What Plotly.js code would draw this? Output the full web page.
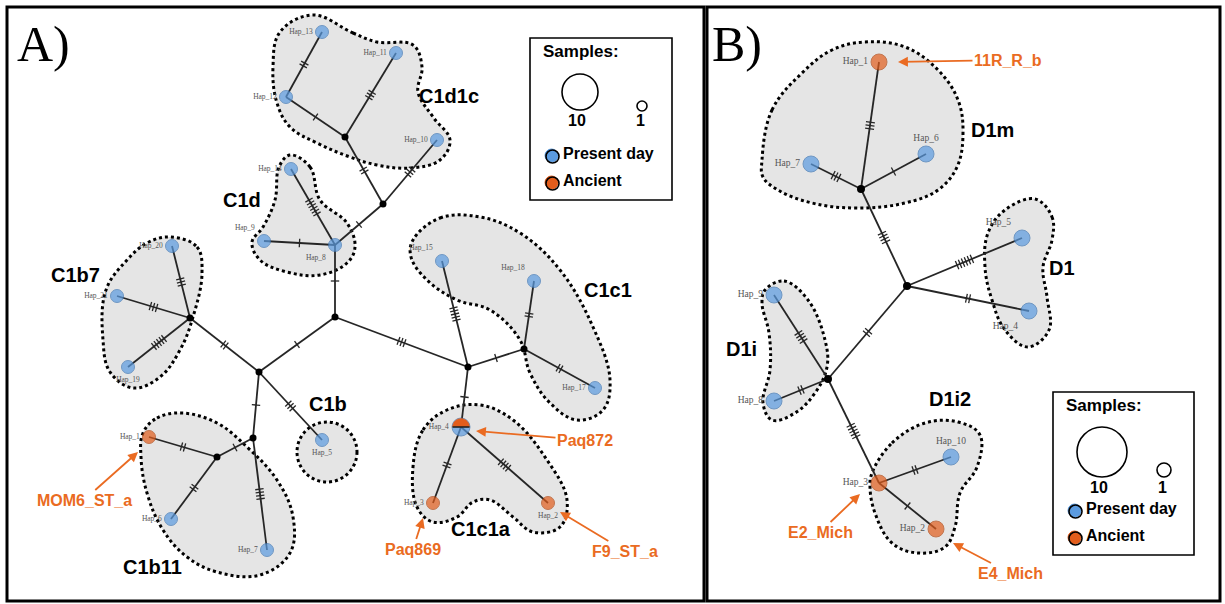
<!DOCTYPE html>
<html>
<head>
<meta charset="utf-8">
<script src="https://cdn.plot.ly/plotly-3.0.1.min.js"></script>
<style>body{margin:0;background:#fff}#net{width:1225px;height:604px}</style>
</head>
<body>
<div id="net"></div>
<script>
// ---------- panel A: haplogroup C network (layout) ----------
var hapA  = ['Hap_1','Hap_2','Hap_3','Hap_4','Hap_5','Hap_6','Hap_7','Hap_8','Hap_9','Hap_10',
             'Hap_11','Hap_12','Hap_13','Hap_14','Hap_15','Hap_17','Hap_18','Hap_19','Hap_20','Hap_21'];
var hapAx = [149,548,433,461,322,171,267,335,264,437,396,286,322,291,442,595,534,128,172,117];
var hapAy = [437,503,503,427,440,519,550,245,241,140, 53, 97, 32,169,261,388,281,367,246,296];
var hapAkind = ['anc','anc','anc','mix','pres','pres','pres','pres','pres','pres',
                'pres','pres','pres','pres','pres','pres','pres','pres','pres','pres'];
var medA  = ['a1','a2','a3','a4','a5','a6','a7','a8','a9'];
var medAx = [345,383,190,259,335,468,253,217,524];
var medAy = [137,204,318,372,317,367,438,457,349];
// [from, to, number of mutations]
var edgesA = [
  ['Hap_13','Hap_12',2],['Hap_12','a1',1],['Hap_11','a1',3],['a1','a2',2],['Hap_10','a2',3],
  ['a2','Hap_8',1],['Hap_14','Hap_8',6],['Hap_9','Hap_8',1],['Hap_8','a5',1],['a5','a4',1],
  ['a5','a6',3],['Hap_15','a6',5],['a6','a9',1],['a9','Hap_18',2],['a9','Hap_17',2],
  ['a6','Hap_4',1],['Hap_4','Hap_3',2],['Hap_4','Hap_2',4],['a4','a3',2],['a3','Hap_20',3],
  ['a3','Hap_21',3],['a3','Hap_19',5],['a4','a7',1],['a4','Hap_5',3],['a7','a8',1],
  ['a8','Hap_1',2],['a8','Hap_6',2],['a7','Hap_7',4]
];
var groupsA = ['C1d1c','C1d','C1b7','C1b','C1b11','C1c1','C1c1a'];
var ancientA = ['MOM6_ST_a','Paq869','Paq872','F9_ST_a'];

// ---------- panel B: haplogroup D network ----------
var hapB  = ['Hap_1','Hap_2','Hap_3','Hap_4','Hap_5','Hap_6','Hap_7','Hap_8','Hap_9','Hap_10'];
var hapBx = [879,936,879,1029,1022,926,811,774,774,951];
var hapBy = [ 62,529,483, 311, 238,154,164,401,295,457];
var hapBkind = ['anc','anc','anc','pres','pres','pres','pres','pres','pres','pres'];
var medB  = ['b1','b2','b3'];
var medBx = [861,907,828];
var medBy = [189,286,379];
var edgesB = [
  ['Hap_1','b1',3],['Hap_7','b1',3],['Hap_6','b1',1],['b1','b2',4],['b2','Hap_5',6],
  ['b2','Hap_4',2],['b2','b3',2],['b3','Hap_9',4],['b3','Hap_8',2],['b3','Hap_3',5],
  ['Hap_3','Hap_10',2],['Hap_3','Hap_2',1]
];
var groupsB = ['D1m','D1','D1i','D1i2'];
var ancientB = ['11R_R_b','E2_Mich','E4_Mich'];

var legendText = ['Samples:','10','1','Present day','Ancient'];

// ---------- styling / placement ----------
var BLUE = '#5b9be0', BLUE_LN = '#3f77b5', ORANGE = '#e25d1c', ORANGE_LN = '#b34812';
var TXT_OR = '#ea6b22', EDGE = '#262626';

var sideA = {Hap_1:'middle left',Hap_2:'bottom center',Hap_3:'middle left',Hap_4:'middle left',
  Hap_5:'bottom center',Hap_6:'middle left',Hap_7:'middle left',Hap_8:'bottom left',Hap_9:'top left',
  Hap_10:'middle left',Hap_11:'middle left',Hap_12:'middle left',Hap_13:'middle left',Hap_14:'middle left',
  Hap_15:'top left',Hap_17:'middle left',Hap_18:'top left',Hap_19:'bottom center',Hap_20:'middle left',
  Hap_21:'middle left'};
var sideB = {Hap_1:'middle left',Hap_2:'middle left',Hap_3:'middle left',Hap_4:'bottom left',
  Hap_5:'top left',Hap_6:'top center',Hap_7:'middle left',Hap_8:'middle left',Hap_9:'middle left',
  Hap_10:'top center'};

// cluster outlines (hand traced, smoothed by spline)
var hullA = {
  C1d1c: [[313,15],[353,33],[377,42],[413,45],[422,67],[418,92],[433,117],[450,140],[440,160],[410,168],
          [377,165],[350,157],[317,143],[290,127],[277,103],[273,67],[280,32]],
  C1d:   [[290,155],[310,167],[320,200],[347,223],[355,247],[347,263],[320,275],[287,272],[260,260],
          [252,242],[263,227],[275,200],[279,167]],
  C1b7:  [[170,237],[197,247],[202,273],[193,317],[180,350],[160,377],[133,388],[110,372],[103,340],
          [106,290],[127,260],[147,243]],
  C1b11: [[143,433],[157,418],[182,413],[217,423],[247,447],[277,480],[293,517],[290,553],[260,575],
          [217,572],[187,557],[163,530],[147,493],[141,457]],
  C1c1:  [[413,240],[440,218],[480,217],[520,233],[560,270],[593,327],[610,380],[603,410],[577,420],
          [550,403],[530,373],[520,340],[490,310],[457,300],[427,280],[411,257]],
  C1c1a: [[413,467],[423,430],[447,410],[480,405],[513,420],[547,460],[567,500],[560,527],[533,532],
          [513,517],[490,500],[473,502],[457,517],[433,522],[417,507]]
};
var hullB = {
  D1m:  [[762,160],[772,110],[802,73],[832,50],[865,42],[905,47],[938,70],[958,100],[963,133],[957,167],
         [938,190],[905,203],[855,208],[812,203],[778,190],[763,177]],
  D1:   [[1035,199],[1052,217],[1052,240],[1043,267],[1047,297],[1049,330],[1028,347],[1005,330],
         [992,300],[985,267],[988,233],[1005,210]],
  D1i:  [[765,290],[784,281],[808,300],[825,340],[827,367],[815,393],[795,413],[772,420],[763,403],
         [770,370],[769,333],[762,303]],
  D1i2: [[872,473],[892,443],[925,423],[958,422],[980,435],[977,467],[960,493],[955,527],[945,547],
         [918,553],[892,543],[875,513],[870,487]]
};
var groupPos = {C1d1c:[449,96],C1d:[242,200],C1b7:[75,275],C1b:[328,404],C1b11:[152,567],C1c1:[608,290],
  C1c1a:[481,529],D1m:[992,130],D1:[1062,268],D1i:[741,349],D1i2:[950,399]};
// ancient sample callouts: [text x, text y, arrow tip x, arrow tip y]
var callout = {MOM6_ST_a:[84,500,138,452],Paq869:[413,549,423,518],Paq872:[585,440,476,431],
  F9_ST_a:[625,551,560,512],'11R_R_b':[1008,60,898,62],E2_Mich:[820,532,860,494],E4_Mich:[1010,573,953,543]};

function lookup(names, xs, ys, mn, mx, my) {
  var p = {};
  names.forEach(function (n, i) { p[n] = [xs[i], ys[i]]; });
  mn.forEach(function (n, i) { p[n] = [mx[i], my[i]]; });
  return p;
}
var posA = lookup(hapA, hapAx, hapAy, medA, medAx, medAy);
var posB = lookup(hapB, hapBx, hapBy, medB, medBx, medBy);

var traces = [];

function hullTrace(pts) {
  var xs = pts.map(function (p) { return p[0]; }), ys = pts.map(function (p) { return p[1]; });
  xs.push(xs[0]); ys.push(ys[0]);
  return {x: xs, y: ys, mode: 'lines', fill: 'toself', fillcolor: '#e5e5e5', hoverinfo: 'skip',
          line: {shape: 'spline', smoothing: 1.1, color: '#000', width: 3, dash: '3px,3px'}};
}
Object.keys(hullA).forEach(function (k) { traces.push(hullTrace(hullA[k])); });
Object.keys(hullB).forEach(function (k) { traces.push(hullTrace(hullB[k])); });

function edgeTraces(edges, pos, tick) {
  var ex = [], ey = [], hx = [], hy = [];
  edges.forEach(function (e) {
    var a = pos[e[0]], b = pos[e[1]];
    ex.push(a[0], b[0], null); ey.push(a[1], b[1], null);
    var dx = b[0] - a[0], dy = b[1] - a[1], L = Math.sqrt(dx * dx + dy * dy);
    var ux = dx / L, uy = dy / L, px = -uy, py = ux;
    var mx = (a[0] + b[0]) / 2, my = (a[1] + b[1]) / 2;
    for (var i = 0; i < e[2]; i++) {
      var off = (i - (e[2] - 1) / 2) * 3.2;
      var cx = mx + ux * off, cy = my + uy * off;
      hx.push(cx - px * tick, cx + px * tick, null);
      hy.push(cy - py * tick, cy + py * tick, null);
    }
  });
  traces.push({x: ex, y: ey, mode: 'lines', line: {color: EDGE, width: 1.8}, hoverinfo: 'skip'});
  traces.push({x: hx, y: hy, mode: 'lines', line: {color: EDGE, width: 1.3}, hoverinfo: 'skip'});
}
edgeTraces(edgesA, posA, 4.2);
edgeTraces(edgesB, posB, 4.5);

function nodeTraces(names, xs, ys, kinds, mx, my, side, size, medSize, fs) {
  traces.push({x: mx, y: my, mode: 'markers', marker: {color: '#000', size: medSize}, hoverinfo: 'skip'});
  traces.push({
    x: xs, y: ys, mode: 'markers+text', text: names,
    textposition: names.map(function (n) { return side[n]; }),
    textfont: {family: 'Liberation Serif', size: fs, color: '#555'},
    marker: {
      size: names.map(function (n, i) { return kinds[i] === 'mix' ? size + 5 : size; }),
      color: kinds.map(function (k) { return k === 'anc' ? ORANGE : BLUE; }),
      line: {width: 1, color: kinds.map(function (k) { return k === 'anc' ? ORANGE_LN : BLUE_LN; })}
    },
    hoverinfo: 'skip'
  });
  // mixed haplotype: upper half ancient
  kinds.forEach(function (k, i) {
    if (k !== 'mix') return;
    var r = (size + 5) / 2 - 0.5, hx = [], hy = [];
    for (var t = 0; t <= 24; t++) {
      var a = Math.PI * t / 24;
      hx.push(xs[i] + r * Math.cos(a)); hy.push(ys[i] - r * Math.sin(a));
    }
    traces.push({x: hx, y: hy, mode: 'lines', fill: 'toself', fillcolor: ORANGE,
                 line: {color: ORANGE, width: 0.5}, hoverinfo: 'skip'});
    traces.push({x: [xs[i] - r, xs[i] + r], y: [ys[i], ys[i]], mode: 'lines',
                 line: {color: '#222', width: 1.6}, hoverinfo: 'skip'});
  });
}
nodeTraces(hapA, hapAx, hapAy, hapAkind, medAx, medAy, sideA, 13, 7, 7.5);
nodeTraces(hapB, hapBx, hapBy, hapBkind, medBx, medBy, sideB, 16, 8, 9.5);

// ---------- frames, legend boxes, C1b ring ----------
var shapes = [
  {type: 'circle', x0: 297, x1: 357, y0: 422, y1: 482, layer: 'below', fillcolor: '#e5e5e5',
   line: {color: '#000', width: 3, dash: '3px,3px'}},
  {type: 'rect', x0: 7, x1: 704, y0: 7, y1: 601, line: {color: '#000', width: 3}},
  {type: 'rect', x0: 707, x1: 1220, y0: 7, y1: 601, line: {color: '#000', width: 3}}
];
var annotations = [
  {x: 15, y: 44, text: 'A)', xanchor: 'left', yanchor: 'middle', showarrow: false,
   font: {family: 'Liberation Serif', size: 50, color: '#000'}},
  {x: 710, y: 44, text: 'B)', xanchor: 'left', yanchor: 'middle', showarrow: false,
   font: {family: 'Liberation Serif', size: 50, color: '#000'}}
];

function legendBox(x0, y0, x1, y1, big, small, fs) {
  shapes.push({type: 'rect', x0: x0, x1: x1, y0: y0, y1: y1, line: {color: '#000', width: 1.6}});
  shapes.push({type: 'circle', x0: big[0] - big[2], x1: big[0] + big[2], y0: big[1] - big[2], y1: big[1] + big[2],
               line: {color: '#000', width: 1.6}});
  shapes.push({type: 'circle', x0: small[0] - small[2], x1: small[0] + small[2], y0: small[1] - small[2],
               y1: small[1] + small[2], line: {color: '#000', width: 1.6}});
  annotations.push({x: x0 + 11, y: y0 + 13, text: '<b>' + legendText[0] + '</b>', xanchor: 'left', showarrow: false,
                    font: {family: 'Liberation Sans', size: fs + 1, color: '#000'}});
  annotations.push({x: big[0] - 3, y: big[1] + big[2] + 10, text: '<b>' + legendText[1] + '</b>', showarrow: false,
                    font: {family: 'Liberation Sans', size: fs, color: '#000'}});
  annotations.push({x: small[0] - 2, y: big[1] + big[2] + 10, text: '<b>' + legendText[2] + '</b>', showarrow: false,
                    font: {family: 'Liberation Sans', size: fs, color: '#000'}});
  var rows = [[BLUE, legendText[3]], [ORANGE, legendText[4]]];
  rows.forEach(function (r, i) {
    var cy = y1 - 44 + i * 27, cx = x0 + 22;
    shapes.push({type: 'circle', x0: cx - 7, x1: cx + 6, y0: cy - 7, y1: cy + 6, fillcolor: r[0],
                 line: {color: r[0], width: 1}});
    shapes.push({type: 'circle', x0: cx - 6, x1: cx + 7, y0: cy - 6, y1: cy + 7,
                 line: {color: '#000', width: 1.6}});
    annotations.push({x: cx + 9, y: cy - 3, text: '<b>' + r[1] + '</b>', xanchor: 'left', showarrow: false,
                      font: {family: 'Liberation Sans', size: fs, color: '#000'}});
  });
}
legendBox(530, 38, 672, 200, [580, 92, 18], [642, 106, 5], 16);
legendBox(1053, 392, 1194, 555, [1102, 452, 25], [1164, 470, 7], 16);

groupsA.concat(groupsB).forEach(function (g) {
  annotations.push({x: groupPos[g][0], y: groupPos[g][1], text: '<b>' + g + '</b>', showarrow: false,
                    font: {family: 'Liberation Sans', size: 20, color: '#000'}});
});
ancientA.concat(ancientB).forEach(function (s) {
  var c = callout[s];
  annotations.push({x: c[2], y: c[3], ax: c[0], ay: c[1], axref: 'x', ayref: 'y', text: '<b>' + s + '</b>',
                    showarrow: true, arrowhead: 2, arrowsize: 1.1, arrowwidth: 1.8, arrowcolor: TXT_OR,
                    standoff: 0, font: {family: 'Liberation Sans', size: 16, color: TXT_OR}});
});

var layout = {
  width: 1225, height: 604, margin: {l: 0, r: 0, t: 0, b: 0},
  paper_bgcolor: '#fff', plot_bgcolor: '#fff', showlegend: false,
  xaxis: {range: [0, 1225], visible: false, fixedrange: true},
  yaxis: {range: [604, 0], visible: false, fixedrange: true},
  shapes: shapes, annotations: annotations
};
Plotly.newPlot('net', traces, layout, {staticPlot: true});
</script>
</body>
</html>
